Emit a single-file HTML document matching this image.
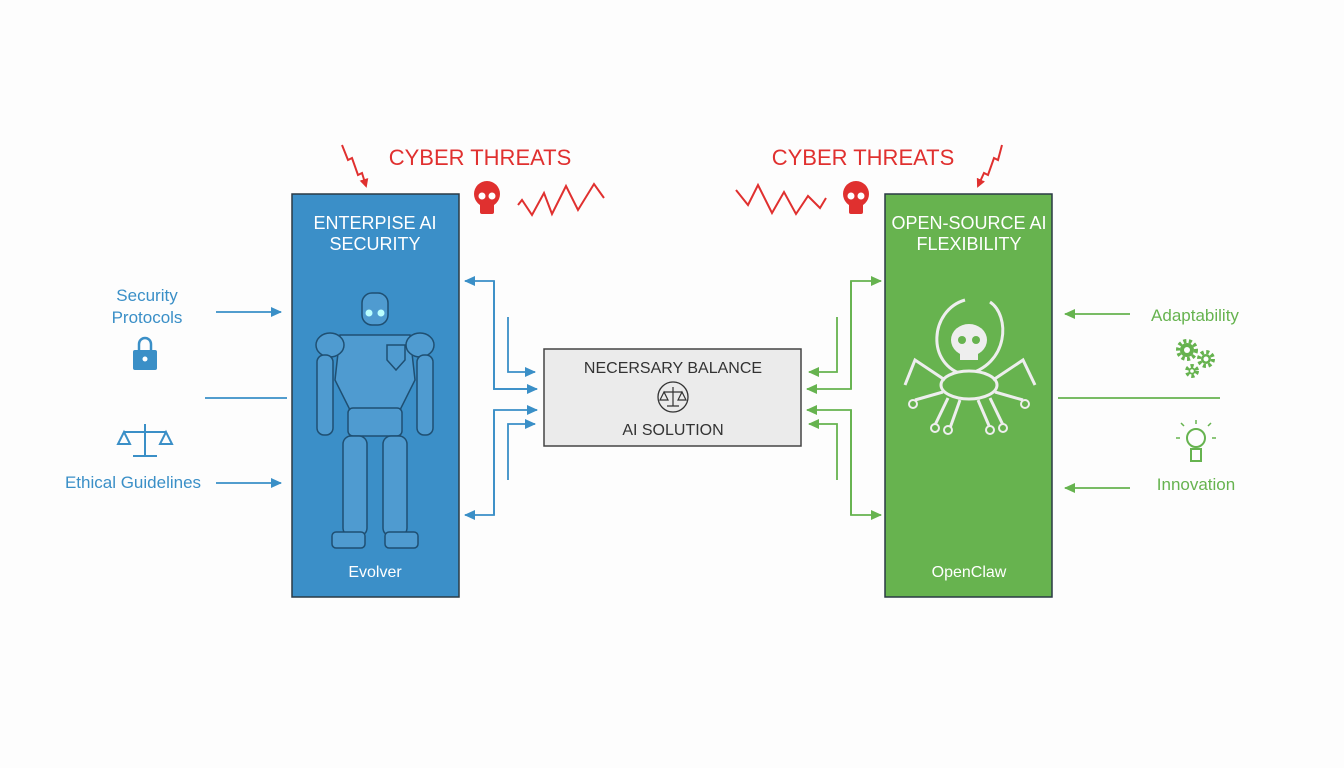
<!DOCTYPE html>
<html><head><meta charset="utf-8"><style>
body{margin:0;background:#fff;}
svg{display:block;font-family:"Liberation Sans",sans-serif;}
</style></head><body>
<svg width="1344" height="768" viewBox="0 0 1344 768">
<defs>
<marker id="ab" markerWidth="11" markerHeight="10" refX="10" refY="5" orient="auto" markerUnits="userSpaceOnUse"><path d="M0,0 L11,5 L0,10 Z" fill="#3a8fc7"/></marker>
<marker id="ag" markerWidth="11" markerHeight="10" refX="10" refY="5" orient="auto" markerUnits="userSpaceOnUse"><path d="M0,0 L11,5 L0,10 Z" fill="#66b34f"/></marker>
<marker id="ar" markerWidth="9" markerHeight="9" refX="7" refY="4.5" orient="auto" markerUnits="userSpaceOnUse"><path d="M0,0 L9,4.5 L0,9 Z" fill="#e0302f"/></marker>
</defs>
<rect width="1344" height="768" fill="#fdfdfd"/>

<text x="480" y="165" font-size="22" fill="#e0302f" text-anchor="middle">CYBER THREATS</text>
<text x="863" y="165" font-size="22" fill="#e0302f" text-anchor="middle">CYBER THREATS</text>
<polyline points="342,145 348,160 352,158 358,175 362,173 366,186" fill="none" stroke="#e0302f" stroke-width="2" marker-end="url(#ar)"/>
<polyline points="1002,145 998,160 994,158 988,175 984,173 978,186" fill="none" stroke="#e0302f" stroke-width="2" marker-end="url(#ar)"/>
<polyline points="518,205 522,200 532,215 544,193 552,214 566,186 578,210 594,184 604,198" fill="none" stroke="#e0302f" stroke-width="2"/>
<polyline points="736,190 748,205 758,185 772,213 784,192 796,214 808,196 820,208 826,198" fill="none" stroke="#e0302f" stroke-width="2"/>
<g fill="#e0302f"><ellipse cx="487" cy="194" rx="13" ry="13"/><rect x="480" y="200" width="14" height="14" rx="2"/></g>
<g fill="#fff"><circle cx="482" cy="196" r="3.5"/><circle cx="492" cy="196" r="3.5"/></g>
<g fill="#e0302f"><ellipse cx="856" cy="194" rx="13" ry="13"/><rect x="849" y="200" width="14" height="14" rx="2"/></g>
<g fill="#fff"><circle cx="851" cy="196" r="3.5"/><circle cx="861" cy="196" r="3.5"/></g>

<rect x="292" y="194" width="167" height="403" fill="#3b8fc8" stroke="#2a3a45" stroke-width="1.5"/>
<rect x="885" y="194" width="167" height="403" fill="#67b34f" stroke="#2a3a45" stroke-width="1.5"/>
<text x="375" y="229" font-size="18" fill="#fff" text-anchor="middle">ENTERPISE AI</text>
<text x="375" y="250" font-size="18" fill="#fff" text-anchor="middle">SECURITY</text>
<text x="969" y="229" font-size="18" fill="#fff" text-anchor="middle">OPEN-SOURCE AI</text>
<text x="969" y="250" font-size="18" fill="#fff" text-anchor="middle">FLEXIBILITY</text>
<text x="375" y="577" font-size="16" fill="#fff" text-anchor="middle">Evolver</text>
<text x="969" y="577" font-size="16" fill="#fff" text-anchor="middle">OpenClaw</text>

<g fill="#4f9bd0" stroke="#1f4f72" stroke-width="1.5">
<rect x="362" y="293" width="26" height="32" rx="10"/>
<path d="M340,335 L410,335 L415,380 L400,410 L350,410 L335,380 Z"/>
<ellipse cx="330" cy="345" rx="14" ry="12"/><ellipse cx="420" cy="345" rx="14" ry="12"/>
<rect x="317" y="355" width="16" height="80" rx="7"/><rect x="417" y="355" width="16" height="80" rx="7"/>
<rect x="348" y="408" width="54" height="28" rx="5"/>
<rect x="343" y="436" width="24" height="100" rx="8"/><rect x="383" y="436" width="24" height="100" rx="8"/>
<rect x="332" y="532" width="33" height="16" rx="4"/><rect x="385" y="532" width="33" height="16" rx="4"/>
<path d="M387,345 L405,345 L405,360 L396,370 L387,360 Z"/>
</g>
<circle cx="369" cy="313" r="3.5" fill="#bff"/><circle cx="381" cy="313" r="3.5" fill="#bff"/>

<g fill="none" stroke="#eee" stroke-width="3">
<path d="M965,300 C930,310 925,365 965,375 C1010,365 1010,315 990,302"/>
<ellipse cx="969" cy="385" rx="28" ry="14" fill="#67b34f"/>
<path d="M945,380 L915,360 L905,385"/><path d="M943,392 L915,400"/><path d="M948,398 L935,425"/><path d="M960,400 L950,428"/>
<path d="M993,380 L1023,360 L1035,385"/><path d="M995,392 L1023,400"/><path d="M990,398 L1003,425"/><path d="M978,400 L990,428"/>
</g>
<g fill="#eee"><ellipse cx="969" cy="340" rx="18" ry="16"/><rect x="960" y="348" width="18" height="12"/></g>
<g fill="#67b34f"><circle cx="962" cy="340" r="4"/><circle cx="976" cy="340" r="4"/></g>
<g fill="#67b34f" stroke="#eee" stroke-width="2"><circle cx="913" cy="404" r="4"/><circle cx="935" cy="428" r="4"/><circle cx="948" cy="430" r="4"/><circle cx="1025" cy="404" r="4"/><circle cx="1003" cy="428" r="4"/><circle cx="990" cy="430" r="4"/></g>

<rect x="544" y="349" width="257" height="97" fill="#ebebeb" stroke="#444" stroke-width="1.5"/>
<text x="673" y="373" font-size="16" fill="#333" text-anchor="middle">NECERSARY BALANCE</text>
<text x="673" y="435" font-size="16" fill="#333" text-anchor="middle">AI SOLUTION</text>
<circle cx="673" cy="397" r="15" fill="none" stroke="#333" stroke-width="1.3"/>
<path d="M673,387 V406 M667,406 H679 M664,392 H682 M664,392 l-4,8 h8 z M682,392 l-4,8 h8 z" fill="none" stroke="#333" stroke-width="1.2"/>

<g fill="none" stroke="#3a8fc7" stroke-width="1.8">
<polyline points="536,389 494,389 494,281 465,281" marker-end="url(#ab)"/>
<polyline points="494,281 494,389 537,389" marker-end="url(#ab)"/>
<polyline points="508,317 508,372 535,372" marker-end="url(#ab)"/>
<polyline points="494,515 494,410 537,410" marker-end="url(#ab)"/>
<polyline points="494,410 494,515 465,515" marker-end="url(#ab)"/>
<polyline points="508,480 508,424 535,424" marker-end="url(#ab)"/>
</g>
<g fill="none" stroke="#66b34f" stroke-width="1.8">
<polyline points="851,389 851,281 881,281" marker-end="url(#ag)"/>
<polyline points="851,281 851,389 807,389" marker-end="url(#ag)"/>
<polyline points="837,317 837,372 809,372" marker-end="url(#ag)"/>
<polyline points="851,410 851,515 881,515" marker-end="url(#ag)"/>
<polyline points="851,515 851,410 807,410" marker-end="url(#ag)"/>
<polyline points="837,480 837,424 809,424" marker-end="url(#ag)"/>
</g>

<text x="147" y="301" font-size="17" fill="#3a8fc7" text-anchor="middle">Security</text>
<text x="147" y="323" font-size="17" fill="#3a8fc7" text-anchor="middle">Protocols</text>
<line x1="216" y1="312" x2="281" y2="312" stroke="#3a8fc7" stroke-width="1.8" marker-end="url(#ab)"/>
<path d="M139,350 v-6 a6,6 0 0 1 12,0 v6" fill="none" stroke="#3a8fc7" stroke-width="2.5"/>
<rect x="133" y="350" width="24" height="20" rx="2" fill="#3a8fc7"/>
<circle cx="145" cy="359" r="2.5" fill="#fff"/>
<line x1="205" y1="398" x2="287" y2="398" stroke="#3a8fc7" stroke-width="1.8"/>
<path d="M145,424 V455 M133,456 H157 M124,432 H166 M124,432 l-6,12 h12 z M166,432 l-6,12 h12 z" fill="none" stroke="#3a8fc7" stroke-width="2"/>
<text x="133" y="488" font-size="17" fill="#3a8fc7" text-anchor="middle">Ethical Guidelines</text>
<line x1="216" y1="483" x2="281" y2="483" stroke="#3a8fc7" stroke-width="1.8" marker-end="url(#ab)"/>

<line x1="1130" y1="314" x2="1065" y2="314" stroke="#66b34f" stroke-width="1.8" marker-end="url(#ag)"/>
<text x="1195" y="321" font-size="17" fill="#66b34f" text-anchor="middle">Adaptability</text>
<g fill="none" stroke="#66b34f" stroke-width="4" stroke-dasharray="3 2.5"><circle cx="1187" cy="350" r="9"/><circle cx="1206" cy="359" r="7"/><circle cx="1192" cy="371" r="5"/></g>
<g fill="#66b34f"><circle cx="1187" cy="350" r="7"/><circle cx="1206" cy="359" r="5"/><circle cx="1192" cy="371" r="3.5"/></g>
<g fill="#fff"><circle cx="1187" cy="350" r="3"/><circle cx="1206" cy="359" r="2.5"/><circle cx="1192" cy="371" r="1.8"/></g>
<line x1="1058" y1="398" x2="1220" y2="398" stroke="#66b34f" stroke-width="1.8"/>
<circle cx="1196" cy="438" r="9" fill="none" stroke="#66b34f" stroke-width="2"/>
<rect x="1191" y="449" width="10" height="12" fill="none" stroke="#66b34f" stroke-width="2"/>
<path d="M1196,420 v4 M1180,438 h-4 M1212,438 h4 M1184,426 l-3,-3 M1208,426 l3,-3" stroke="#66b34f" stroke-width="1.5"/>
<text x="1196" y="490" font-size="17" fill="#66b34f" text-anchor="middle">Innovation</text>
<line x1="1130" y1="488" x2="1065" y2="488" stroke="#66b34f" stroke-width="1.8" marker-end="url(#ag)"/>
</svg>
</body></html>
